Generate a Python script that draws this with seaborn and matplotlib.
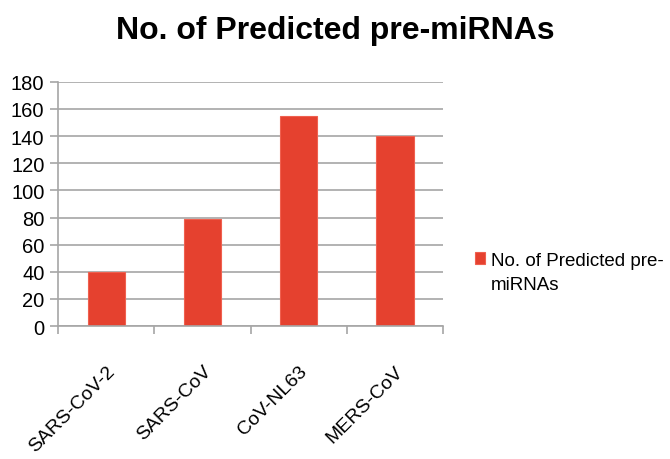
import matplotlib
matplotlib.use("Agg")
import matplotlib.pyplot as plt
import seaborn as sns
import pandas as pd

categories = ["SARS-CoV-2", "SARS-CoV", "CoV-NL63", "MERS-CoV"]
values = [40, 79, 155, 140]
series_name = "No. of Predicted pre-miRNAs"
legend_line1 = "No. of Predicted pre-"
legend_line2 = "miRNAs"
yticks = [0, 20, 40, 60, 80, 100, 120, 140, 160, 180]

sns.set_style("white")
plt.rcParams['font.family'] = ['Liberation Sans', 'DejaVu Sans']
plt.rcParams['text.color'] = 'black'
plt.rcParams['xtick.color'] = 'black'
plt.rcParams['ytick.color'] = 'black'

df = pd.DataFrame({"virus": categories, "count": values, "series": series_name})

fig = plt.figure(figsize=(6.7, 4.6), dpi=100)
ax = fig.add_axes([0.087, 0.289, 0.574, 0.531])

sns.barplot(data=df, x="virus", y="count", hue="series", palette=["#E5412F"],
            width=0.39, ax=ax, edgecolor="#F0604F", linewidth=0.8, saturation=1)

ax.set_ylim(0, 180)
ax.set_xlim(-0.5, 3.5)
ax.set_yticks(yticks)
ax.yaxis.grid(True, color="#A6A6A6", linewidth=1.2)
ax.set_axisbelow(True)
for s in ["top", "right"]:
    ax.spines[s].set_visible(False)
for s in ["left", "bottom"]:
    ax.spines[s].set_color("#A6A6A6")
    ax.spines[s].set_linewidth(1.2)

ax.set_xticks([-0.5, 0.5, 1.5, 2.5, 3.5], minor=False)
ax.set_xticklabels([])
ax.set_xticks([0, 1, 2, 3], minor=True)
ax.set_xticklabels(categories, minor=True, rotation=45, ha="right",
                   rotation_mode="anchor", fontsize=14)
ax.tick_params(axis="x", which="major", length=6, color="#A6A6A6", width=1.2, direction="out", bottom=True)
ax.tick_params(axis="x", which="minor", length=0, pad=26)
ax.tick_params(axis="y", length=6, color="#A6A6A6", width=1.2, direction="out", left=True,
               labelsize=14.5, pad=4)
ax.set_xlabel("")
ax.set_ylabel("")

fig.suptitle(series_name, x=0.5, y=0.965, fontsize=23, fontweight="bold", color="black")

handles, labels = ax.get_legend_handles_labels()
leg = ax.legend(handles, [legend_line1], loc="upper left",
                bbox_to_anchor=(1.083, 0.305), frameon=False, fontsize=13.5,
                handlelength=0.55, handleheight=0.55, handletextpad=0.3,
                borderpad=0, borderaxespad=0)
ax.annotate(legend_line2, xy=(0, 0), xycoords=leg.get_texts()[0],
            xytext=(0, -5), textcoords="offset points",
            ha="left", va="top", fontsize=13.5, zorder=10, annotation_clip=False)

fig.savefig("out.png", dpi=100)
